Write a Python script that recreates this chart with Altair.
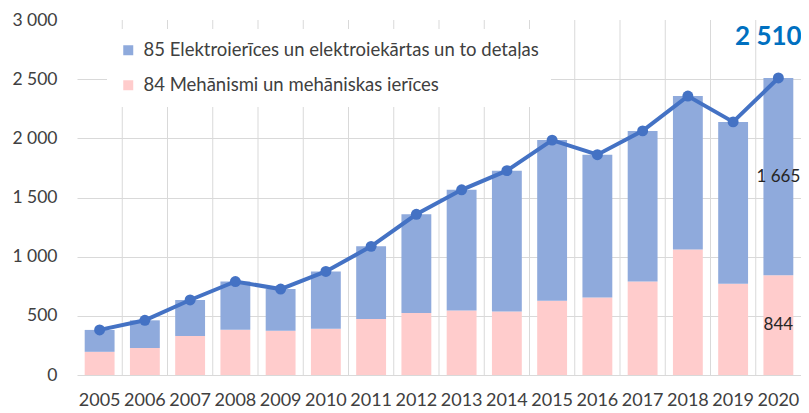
import altair as alt
import pandas as pd

years = [str(y) for y in range(2005, 2021)]
s84 = [196, 228, 329, 383, 375, 391, 473, 525, 546, 536, 628, 655, 791, 1060, 772, 844]
s85 = [185, 234, 305, 407, 351, 484, 614, 833, 1019, 1191, 1357, 1207, 1272, 1297, 1367, 1665]
totals = [381, 462, 634, 790, 726, 875, 1087, 1358, 1565, 1727, 1985, 1862, 2063, 2357, 2139, 2510]
series_names = ["85 Elektroierīces un elektroiekārtas un to detaļas",
                "84 Mehānismi un mehāniskas ierīces"]
colors = ["#8FAADC", "#FFCCCC"]

FONT = "Lato"
TXT = "#404040"

rows = []
for i, y in enumerate(years):
    rows.append({"year": y, "series": series_names[1], "value": s84[i], "ord": 0})
    rows.append({"year": y, "series": series_names[0], "value": s85[i], "ord": 1})
bars_df = pd.DataFrame(rows)
tot_df = pd.DataFrame({"year": years, "total": totals})
grid_df = pd.DataFrame({"year": years[1:]})

def fmt(v):
    return f"{v:,}".replace(",", " ")

seg_df = pd.DataFrame({
    "year": [years[-1], years[-1]],
    "mid": [s84[-1] / 2, s84[-1] + s85[-1] / 2],
    "label": [fmt(s84[-1]), fmt(s85[-1])],
})
top_df = pd.DataFrame({"year": [years[-1]], "total": [totals[-1]], "label": [fmt(totals[-1])]})

xscale = alt.Scale(domain=years, paddingInner=0, paddingOuter=0)
yscale = alt.Scale(domain=[0, 3000])

xaxis = alt.Axis(labelAngle=0, ticks=False, domain=False, grid=False,
                 labelFontSize=18, labelFont=FONT, labelColor=TXT,
                 labelPadding=16)
yaxis = alt.Axis(values=[0, 500, 1000, 1500, 2000, 2500, 3000],
                 labelExpr="replace(format(datum.value, ','), ',', ' ')",
                 ticks=False, domain=False, grid=True,
                 gridColor="#D9D9D9",
                 gridOpacity={"condition": {"test": "datum.value == 3000", "value": 0}, "value": 1},
                 labelFontSize=17.5, labelFont=FONT, labelColor=TXT,
                 labelPadding=20)

vgrid = alt.Chart(grid_df).mark_rule(color="#D9D9D9", strokeWidth=1).encode(
    x=alt.X("year:N", bandPosition=0, scale=xscale, title=None, axis=xaxis),
    y=alt.datum(0, scale=yscale, axis=yaxis, title=None),
    y2=alt.datum(3000),
)

bars = alt.Chart(bars_df).mark_bar(width=alt.RelativeBandSize(0.66)).encode(
    x=alt.X("year:N", scale=xscale, title=None, axis=xaxis),
    y=alt.Y("value:Q", stack="zero", scale=yscale, title=None, axis=yaxis),
    color=alt.Color("series:N", scale=alt.Scale(domain=series_names, range=colors),
                    legend=alt.Legend(title=None, orient="none", legendX=30, legendY=9,
                                      symbolType="square", symbolSize=100,
                                      symbolStrokeWidth=0,
                                      labelFontSize=18.5, labelFont=FONT, labelColor=TXT,
                                      labelLimit=0, labelOffset=6, rowPadding=16,
                                      fillColor="white", padding=12)),
    order=alt.Order("ord:Q"),
)

line = alt.Chart(tot_df).mark_line(color="#4472C4", strokeWidth=4).encode(
    x=alt.X("year:N", scale=xscale),
    y=alt.Y("total:Q", scale=yscale),
)
points = alt.Chart(tot_df).mark_point(filled=True, color="#4472C4", size=120, opacity=1).encode(
    x=alt.X("year:N", scale=xscale),
    y=alt.Y("total:Q", scale=yscale),
)

seg_text = alt.Chart(seg_df).mark_text(font=FONT, fontSize=17, color="#262626").encode(
    x=alt.X("year:N", scale=xscale),
    y=alt.Y("mid:Q", scale=yscale),
    text="label:N",
)
top_text = alt.Chart(top_df).mark_text(font=FONT, fontSize=26, fontWeight="bold",
                                       color="#0070C0", dy=-41, dx=-10).encode(
    x=alt.X("year:N", scale=xscale),
    y=alt.Y("total:Q", scale=yscale),
    text="label:N",
)

chart = alt.layer(vgrid, bars, line, points, seg_text, top_text).properties(
    width=724, height=355,
    autosize=alt.AutoSizeParams(type="none"),
    padding={"left": 69, "top": 12, "right": 0, "bottom": 33},
).configure_view(stroke=None).resolve_scale(x="shared", y="shared")

chart.save("out.html", embed_options={"renderer": "svg", "actions": False})
